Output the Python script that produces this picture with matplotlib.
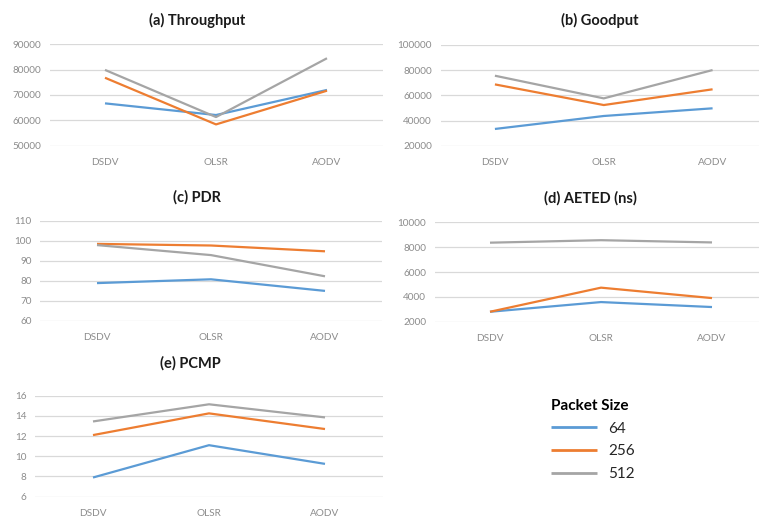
import matplotlib
matplotlib.use("Agg")
import matplotlib.pyplot as plt
import numpy as np

protocols = ["DSDV", "OLSR", "AODV"]
packet_sizes = ["64", "256", "512"]

throughput_64 = [66700, 62100, 72000]
throughput_256 = [76800, 58400, 71700]
throughput_512 = [79900, 61300, 84500]

goodput_64 = [33300, 43600, 49700]
goodput_256 = [68700, 52300, 64800]
goodput_512 = [75600, 57600, 80100]

pdr_64 = [78.8, 80.7, 74.9]
pdr_256 = [98.4, 97.6, 94.7]
pdr_512 = [97.8, 92.8, 82.2]

aeted_64 = [2800, 3580, 3180]
aeted_256 = [2800, 4740, 3900]
aeted_512 = [8360, 8560, 8380]

pcmp_64 = [7.9, 11.1, 9.25]
pcmp_256 = [12.1, 14.25, 12.7]
pcmp_512 = [13.45, 15.15, 13.85]

titles = ["(a) Throughput", "(b) Goodput", "(c) PDR", "(d) AETED (ns)", "(e) PCMP"]
y_ranges = [(50000, 90000, 10000), (20000, 100000, 20000), (60, 110, 10),
            (2000, 10000, 2000), (6, 16, 2)]
series = [
    (throughput_64, throughput_256, throughput_512),
    (goodput_64, goodput_256, goodput_512),
    (pdr_64, pdr_256, pdr_512),
    (aeted_64, aeted_256, aeted_512),
    (pcmp_64, pcmp_256, pcmp_512),
]

colors = ["#5B9BD5", "#ED7D31", "#A5A5A5"]

W, H = 759, 517
fig = plt.figure(figsize=(W / 100, H / 100), dpi=100)
fig.patch.set_facecolor("white")

# pixel boxes (left, top, right, bottom)
boxes = [
    (49.5, 44.3, 382.5, 145.7),
    (440.5, 45.0, 767.0, 145.7),
    (40.0, 220.7, 382.0, 320.7),
    (434.5, 222.3, 767.5, 321.7),
    (35.0, 395.7, 383.0, 496.7),
]
title_pos = [(197, 20), (600, 20), (197, 197), (590, 198), (190, 363)]

font = "Lato"
handles = None
for i in range(5):
    l, t, r, b = boxes[i]
    ax = fig.add_axes([l / W, 1 - b / H, (r - l) / W, (b - t) / H])
    x = np.arange(len(protocols))
    lines = []
    for s, c, lab in zip(series[i], colors, packet_sizes):
        ln, = ax.plot(x, s, color=c, lw=1.6, label=lab, solid_capstyle="butt")
        lines.append(ln)
    if handles is None:
        handles = lines
    lo, hi, st = y_ranges[i]
    ax.set_ylim(lo, hi)
    ax.set_yticks(np.arange(lo, hi + st / 2, st))
    ax.set_xlim(-0.5, 2.5)
    ax.set_xticks(x)
    ax.set_xticklabels(protocols)
    ax.grid(axis="y", color="#D9D9D9", lw=0.9)
    ax.set_axisbelow(True)
    for sp in ax.spines.values():
        sp.set_visible(False)
    ax.tick_params(axis="both", length=0, labelsize=7.2, labelcolor="#8C8C8C")
    ax.tick_params(axis="y", pad=6)
    ax.tick_params(axis="x", pad=9)
    for lbl in ax.get_xticklabels() + ax.get_yticklabels():
        lbl.set_fontfamily(font)
    tx, ty = title_pos[i]
    fig.text(tx / W, 1 - ty / H, titles[i], ha="center", va="center",
             fontsize=10.5, fontweight="bold", family=font, color="#1A1A1A")

leg = fig.legend(handles, packet_sizes, loc="center",
                 bbox_to_anchor=(593 / W, 1 - 440 / H), frameon=False,
                 title="Packet Size", handlelength=3.0, handletextpad=0.7,
                 labelspacing=0.58, alignment="left",
                 prop={"family": font, "size": 11},
                 title_fontproperties={"family": font, "size": 11, "weight": "bold"})
for txt in leg.get_texts():
    txt.set_color("#262626")
for ln in leg.get_lines():
    ln.set_linewidth(2.0)

fig.savefig("out.png", dpi=100, facecolor="white")
